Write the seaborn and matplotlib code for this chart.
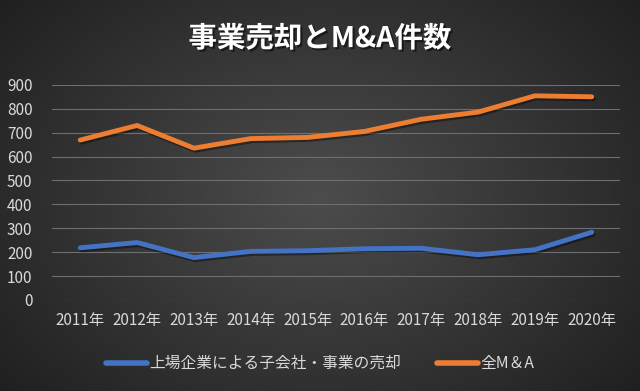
import numpy as np
import pandas as pd
import seaborn as sns
import matplotlib
matplotlib.use("Agg")
from matplotlib import pyplot as plt
from matplotlib import patheffects as pe

# data
years = ["2011年", "2012年", "2013年", "2014年", "2015年",
         "2016年", "2017年", "2018年", "2019年", "2020年"]
divest_counts = [218, 240, 177, 203, 206, 214, 216, 189, 210, 283]
all_ma_counts = [669, 730, 635, 675, 680, 705, 756, 786, 854, 850]
series_names = ["上場企業による子会社・事業の売却", "全M＆A"]
title = "事業売却とM&A件数"

sns.set_theme(style="dark")
plt.rcParams["font.family"] = ["Noto Sans CJK JP", "DejaVu Sans"]

data = pd.concat([
    pd.DataFrame({"year": years, "count": divest_counts, "series": series_names[0]}),
    pd.DataFrame({"year": years, "count": all_ma_counts, "series": series_names[1]}),
])
palette = {series_names[0]: "#4472C4", series_names[1]: "#ED7D31"}

fig = plt.figure(figsize=(6.4, 3.91), dpi=100)

# radial gradient background
bg = fig.add_axes([0, 0, 1, 1], zorder=-10)
yy, xx = np.mgrid[-1:1:391j, -1:1:640j]
r = np.sqrt((xx * 0.9) ** 2 + (yy * 0.75) ** 2)
shade = 0.30 - 0.15 * np.clip(r, 0, 1.3)
bg.imshow(np.dstack([shade] * 3), aspect="auto", extent=[0, 1, 0, 1])
bg.axis("off")

ax = fig.add_axes([0.081, 0.233, 0.888, 0.55])
ax.set_facecolor("none")
shadow = [pe.SimpleLineShadow(offset=(1, -1.5), shadow_color="black", alpha=0.4), pe.Normal()]
sns.lineplot(data=data, x="year", y="count", hue="series", palette=palette,
             linewidth=3.5, sort=False, ax=ax, legend=False,
             path_effects=shadow, solid_capstyle="round")

ax.set_ylim(0, 900)
ax.set_yticks(range(0, 1000, 100))
ax.set_xlim(-0.5, len(years) - 0.5)
ax.grid(axis="y", color="#6e6e6e", linewidth=0.8)
ax.grid(axis="x", visible=False)
for s in ax.spines.values():
    s.set_visible(False)
ax.set_xlabel("")
ax.set_ylabel("")
ax.tick_params(colors="#d9d9d9", labelsize=11, length=0)
ax.xaxis.set_tick_params(pad=9)
ax.yaxis.set_tick_params(pad=14)

handles = [plt.Line2D([], [], color=palette[n], linewidth=4) for n in series_names]
fig.legend(handles, series_names, loc="center", bbox_to_anchor=(0.5, 0.07), ncol=2,
           frameon=False, fontsize=11.3, labelcolor="#d9d9d9", handlelength=2.6,
           handletextpad=0.15, columnspacing=2.3)

fig.text(0.5, 0.9, title, ha="center", va="center", color="white", fontsize=20.5,
         fontweight="bold",
         path_effects=[pe.withSimplePatchShadow(offset=(1.5, -1.5), shadow_rgbFace="black", alpha=0.5)])

fig.savefig("out.png", dpi=100)
